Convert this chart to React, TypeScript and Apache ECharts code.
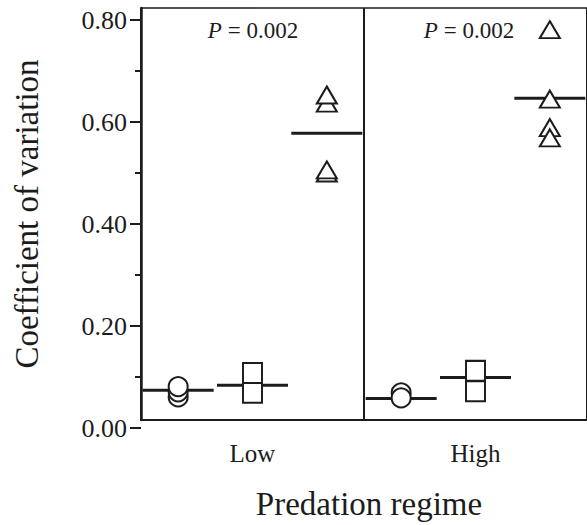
import React, { useEffect, useRef } from "react";
import * as echarts from "echarts";

const regimes = ["Low", "High"];
const groupNames = ["Low-circle", "Low-square", "Low-triangle", "High-circle", "High-square", "High-triangle"];
const yTickValues = [0, 0.2, 0.4, 0.6, 0.8];

const lowCircles = [0.061, 0.071, 0.081];
const lowSquares = [0.069, 0.108];
const lowTriangles = [0.500, 0.506, 0.637, 0.653];
const highCircles = [0.069, 0.059];
const highSquares = [0.072, 0.112];
const highTriangles = [0.781, 0.645, 0.589, 0.569];
const groupMeans = [0.074, 0.084, 0.578, 0.058, 0.099, 0.6465];
const pValueText = ["P = 0.002", "P = 0.002"];

const FONT = "'Liberation Serif', 'Times New Roman', serif";
const INK = "#1c1c1c";

export default function App() {
  const ref = useRef<HTMLDivElement>(null);
  useEffect(() => {
    if (!ref.current) return;
    const chart = echarts.init(ref.current, null, { renderer: "svg" });
    const pts = (idx: number, arr: number[]) => arr.map((v) => [idx, v]);
    const symSeries = (name: string, symbol: string, size: any, data: number[][]) => ({
      type: "scatter",
      name,
      xAxisIndex: 0,
      yAxisIndex: 0,
      symbol,
      symbolSize: size,
      z: 5,
      itemStyle: { color: "#fff", borderColor: INK, borderWidth: 2, opacity: 1 },
      data,
    });
    const option: any = {
      animation: false,
      backgroundColor: "#fff",
      textStyle: { fontFamily: FONT },
      grid: [
        { left: 141, top: 20, width: 447, height: 408 },
        { left: 141, top: 8, width: 447, height: 420 },
      ],
      xAxis: [
        { type: "category", gridIndex: 0, data: groupNames, show: false },
        {
          type: "category",
          gridIndex: 1,
          data: regimes,
          position: "bottom",
          axisLine: { show: true, lineStyle: { color: INK, width: 2 } },
          axisTick: { show: false },
          axisLabel: { fontSize: 25, color: INK, fontFamily: FONT, margin: 21 },
          splitLine: { show: true, lineStyle: { color: INK, width: 2 } },
          name: "Predation regime",
          nameLocation: "middle",
          nameGap: 67,
          nameTextStyle: { fontSize: 33, color: INK, fontFamily: FONT, padding: [0, 0, 0, 10] },
        },
        {
          type: "category",
          gridIndex: 1,
          data: regimes,
          position: "top",
          axisLine: { show: true, lineStyle: { color: INK, width: 1.5 } },
          axisTick: { show: false },
          axisLabel: { show: false },
          splitLine: { show: false },
        },
      ],
      yAxis: [
        {
          type: "value",
          gridIndex: 0,
          min: yTickValues[0],
          max: yTickValues[yTickValues.length - 1],
          interval: 0.2,
          axisLine: { show: false },
          axisTick: { show: true, length: 11, lineStyle: { color: INK, width: 2 } },
          minorTick: { show: true, splitNumber: 2, length: 6, lineStyle: { color: INK, width: 2 } },
          axisLabel: {
            fontSize: 26,
            color: INK,
            fontFamily: FONT,
            margin: 14,
            formatter: (v: number) => v.toFixed(2),
          },
          splitLine: { show: false },
        },
        {
          type: "value",
          gridIndex: 1,
          min: 0,
          max: 1,
          axisLine: { show: true, lineStyle: { color: INK, width: 2.5 } },
          axisTick: { show: false },
          axisLabel: { show: false },
          splitLine: { show: false },
          name: "Coefficient of variation",
          nameLocation: "middle",
          nameGap: 98,
          nameTextStyle: { fontSize: 33, color: INK, fontFamily: FONT },
        },
      ],
      series: [
        {
          type: "scatter",
          name: "mean",
          xAxisIndex: 0,
          yAxisIndex: 0,
          symbol: "rect",
          symbolSize: [71, 3],
          z: 2,
          itemStyle: { color: INK, opacity: 1 },
          data: groupMeans.map((v, i) => [i, v]),
        },
        symSeries("Low circles", "circle", 19, pts(0, lowCircles)),
        symSeries("Low squares", "rect", [19, 20], pts(1, lowSquares)),
        symSeries("Low triangles", "triangle", [20, 17], pts(2, lowTriangles)),
        symSeries("High circles", "circle", 19, pts(3, highCircles)),
        symSeries("High squares", "rect", [19, 20], pts(4, highSquares)),
        symSeries("High triangles", "triangle", [20, 17], pts(5, highTriangles)),
      ],
      graphic: pValueText.map((t, i) => ({
        type: "text",
        x: i === 0 ? 253 : 469,
        y: 30,
        z: 10,
        style: {
          text: "{i|P}" + t.slice(1),
          rich: { i: { fontStyle: "italic", fontSize: 23, fontFamily: FONT, fill: INK } },
          font: `23px ${FONT}`,
          fill: INK,
          align: "center",
          verticalAlign: "middle",
        },
      })),
    };
    chart.setOption(option);
    return () => chart.dispose();
  }, []);
  return (
    <div
      ref={ref}
      style={{ position: "absolute", left: 0, top: 0, width: 587, height: 525 }}
    />
  );
}
